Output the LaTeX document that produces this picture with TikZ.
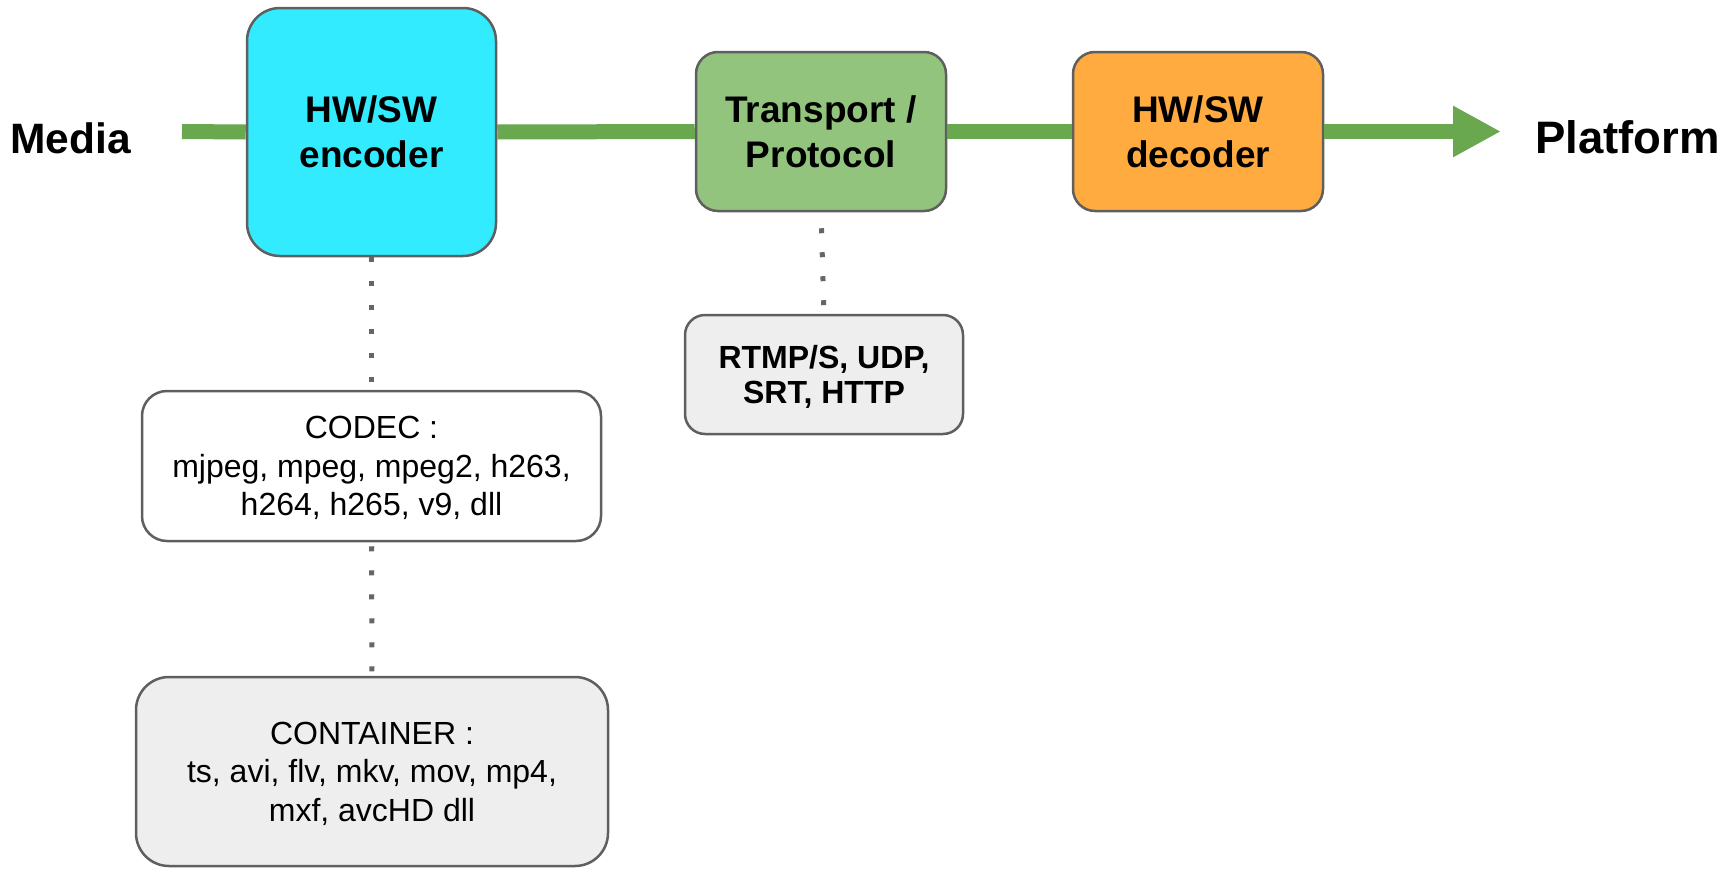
\documentclass[tikz,border=0pt]{standalone}
\usepackage{fontspec}
\setmainfont{Liberation Sans}
\usetikzlibrary{arrows.meta}
\definecolor{enccyan}{HTML}{33EBFF}
\definecolor{trgreen}{HTML}{93C47D}
\definecolor{decorange}{HTML}{FFAB40}
\definecolor{boxgray}{HTML}{EEEEEE}
\definecolor{flowgreen}{HTML}{6AA84F}
\definecolor{bordergray}{HTML}{5F5F5F}
\definecolor{dotgray}{HTML}{666666}
\tikzset{
  box/.style={draw=bordergray, line width=2.5pt, inner sep=0pt, align=center, text depth=0pt},
  mainlbl/.style={font=\fontsize{37}{45}\selectfont\bfseries},
  sidelbl/.style={font=\fontsize{42.5}{50}\selectfont\bfseries, inner sep=0pt},
  listlbl/.style={font=\fontsize{32}{38.5}\selectfont},
  flow/.style={draw=flowgreen, line width=15pt},
  dotline/.style={draw=dotgray, line width=5pt, dash pattern=on 5pt off 19pt}
}
\begin{document}
\begin{tikzpicture}[x=1pt,y=-1pt]
\useasboundingbox (0,0) rectangle (1729,870);
% main boxes
\node[box, mainlbl, fill=enccyan, rounded corners=33pt, minimum width=249pt, minimum height=248pt] (enc) at (371.5,132) {HW/SW\\encoder};
\node[box, mainlbl, fill=trgreen, rounded corners=22pt, minimum width=250pt, minimum height=159pt] (tr) at (821,131.5) {Transport /\\Protocol};
\node[box, mainlbl, fill=decorange, rounded corners=22pt, minimum width=250pt, minimum height=159pt] (dec) at (1198,131.5) {HW/SW\\decoder};
% side labels
\node[sidelbl, anchor=base west] (media) at (10,153) {Media};
\node[sidelbl, font=\fontsize{45.5}{50}\selectfont\bfseries, anchor=base west] (platform) at (1535,153) {Platform};
% lower boxes
\node[box, fill=boxgray, rounded corners=20pt, minimum width=278pt, minimum height=119pt, font=\fontsize{32}{35}\selectfont\bfseries] (rtmp) at (824,374.5) {RTMP/S, UDP,\\SRT, HTTP};
\node[box, listlbl, fill=white, rounded corners=25pt, minimum width=459pt, minimum height=150pt] (codec) at (371.5,466) {CODEC :\\mjpeg, mpeg, mpeg2, h263,\\h264, h265, v9, dll};
\node[box, listlbl, fill=boxgray, rounded corners=33pt, minimum width=472pt, minimum height=189pt] (cont) at (372,771.5) {CONTAINER :\\ts, avi, flv, mkv, mov, mp4,\\mxf, avcHD dll};
% flow line
\coordinate (start) at (182,131.5);
\coordinate (tip) at (1501,131.5);
\draw[flow] (start) -- (enc.west);
\draw[flow] (enc.east) -- (tr.west);
\draw[flow] (tr.east) -- (dec.west);
\draw[flow, -{Triangle[length=48pt,width=48pt]}, color=flowgreen] (dec.east) -- (tip);
% dotted connectors
\draw[dotline] (enc.south) -- (codec.north);
\draw[dotline, shorten <=4pt] (codec.south) -- (cont.north);
\draw[dotline, shorten <=16pt] (tr.south) -- (rtmp.north);
\end{tikzpicture}
\end{document}
